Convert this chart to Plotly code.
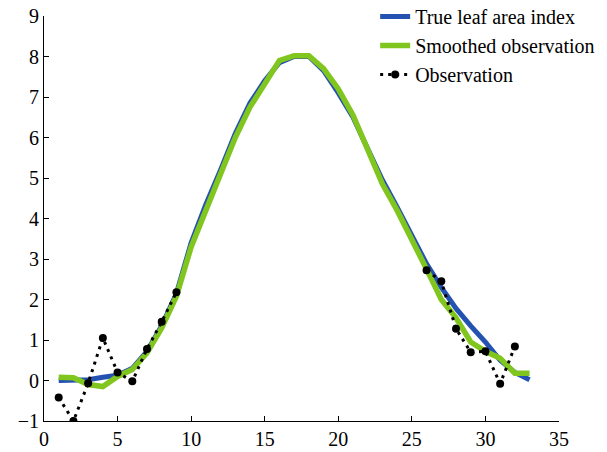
import plotly.graph_objects as go

days = list(range(1, 34))
true_lai = [0.0, 0.0, 0.02, 0.08, 0.13, 0.3, 0.72, 1.35, 2.15, 3.4, 4.35, 5.2, 6.1, 6.85, 7.4, 7.85, 8.0,
            8.0, 7.65, 7.1, 6.5, 5.72, 4.95, 4.28, 3.6, 2.88, 2.3, 1.78, 1.35, 0.95, 0.5, 0.2, 0.02]
smoothed = [0.08, 0.07, -0.1, -0.15, 0.1, 0.27, 0.68, 1.3, 2.08, 3.3, 4.2, 5.1, 6.0, 6.75, 7.35, 7.9, 8.02,
            8.02, 7.7, 7.2, 6.55, 5.7, 4.85, 4.2, 3.5, 2.75, 2.0, 1.55, 0.95, 0.72, 0.55, 0.18, 0.18]
obs_days = list(range(1, 33))
observation = [-0.42, -1.0, -0.07, 1.05, 0.2, -0.02, 0.78, 1.45, 2.18,
               None, None, None, None, None, None, None, None, None, None, None, None, None, None, None, None,
               2.72, 2.45, 1.28, 0.7, 0.72, -0.08, 0.84]

font_family = "Liberation Serif, Times New Roman, serif"

fig = go.Figure()
fig.add_trace(go.Scatter(x=days, y=true_lai, mode="lines", name="True leaf area index",
                         line=dict(color="#2352b0", width=5)))
fig.add_trace(go.Scatter(x=days, y=smoothed, mode="lines", name="Smoothed observation",
                         line=dict(color="#80c61e", width=5.5)))
fig.add_trace(go.Scatter(x=obs_days, y=observation, mode="lines+markers", name="Observation",
                         line=dict(color="black", width=3, dash="3px,5px"),
                         marker=dict(color="black", size=8), connectgaps=False))

fig.update_layout(
    width=607, height=452,
    margin=dict(l=44, r=48, t=16, b=31, autoexpand=False),
    paper_bgcolor="white", plot_bgcolor="white",
    font=dict(family=font_family, size=20, color="black"),
    showlegend=True,
    legend=dict(x=0.643, y=1.047, xanchor="left", yanchor="top", bgcolor="rgba(0,0,0,0)",
                font=dict(family=font_family, size=20, color="black"), tracegroupgap=0,
                itemwidth=30),
)
fig.update_xaxes(range=[0, 35], dtick=5, showline=True, linecolor="black", linewidth=1,
                 ticks="inside", ticklen=5, tickcolor="black", showgrid=False, zeroline=False,
                 automargin=False)
fig.update_yaxes(range=[-1, 9], dtick=1, showline=True, linecolor="black", linewidth=1,
                 ticks="inside", ticklen=5, tickcolor="black", showgrid=False, zeroline=False,
                 automargin=False)

fig.write_html("out.html", config={"displayModeBar": False},
               post_script="document.body.style.margin='0';")
